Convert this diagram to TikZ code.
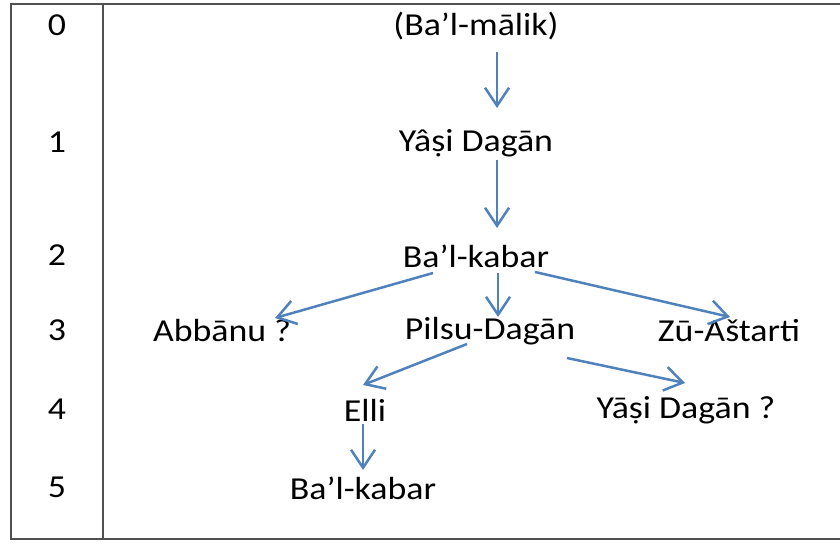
\documentclass[tikz,border=0pt]{standalone}
\usepackage{fontspec}
\setmainfont{Carlito}[FakeStretch=1.12]
\usetikzlibrary{arrows.meta}
\definecolor{arrblue}{RGB}{79,129,189}
\definecolor{rule}{RGB}{80,80,80}
\tikzset{
  txt/.style={inner sep=0pt, font=\fontsize{32}{36}\selectfont},
  arr/.style={arrblue, line width=2.5pt, -{Straight Barb[length=18pt,width=24pt,line width=2.5pt]}},
}
\begin{document}
\begin{tikzpicture}[x=1pt, y=-1pt]
        \useasboundingbox (0,0) rectangle (840,545);
        % table frame
        \draw[rule, line width=1.5pt] (840,4) -- (11,4) -- (11,539) -- (840,539);
        \draw[rule, line width=1.5pt] (103,4) -- (103,539);

        % generations
        \foreach \g/\y in {0/25, 1/142, 2/255, 3/330, 4/409, 5/487}
            \node[txt] (g\g) at (57,\y) {\g};

        \node[txt] (bm)  at (476,26)  {(Ba’l-mālik)};
        \node[txt] (yd)  at (476,143) {Yâṣi Dagān};
        \node[txt] (bk)  at (476,256) {Ba’l-kabar};
        \node[txt] (ab)  at (222,331) {Abbānu ?};
        \node[txt] (pd)  at (490,331) {Pilsu-Dagān};
        \node[txt] (za)  at (729,331) {Zū-Aštarti};
        \node[txt] (el)  at (365,410) {Elli};
        \node[txt] (ydq) at (686,410) {Yāṣi Dagān ?};
        \node[txt] (bk2) at (363,488) {Ba’l-kabar};

        \draw[arr] ([shift={(21,26)}]bm.center) -- ([shift={(21,-35)}]yd.center);
        \draw[arr] ([shift={(21,17)}]yd.center) -- ([shift={(21,-28)}]bk.center);
        \draw[arr] ([shift={(-43,17)}]bk.center) -- ([shift={(53,-13)}]ab.center);
        \draw[arr] ([shift={(22,17)}]bk.center) -- ([shift={(8,-14)}]pd.center);
        \draw[arr] ([shift={(59,16)}]bk.center) -- ([shift={(1,-14)}]za.center);
        \draw[arr] ([shift={(-23,13)}]pd.center) -- ([shift={(-2,-25)}]el.center);
        \draw[arr] ([shift={(77,27)}]pd.center) -- ([shift={(-1,-27)}]ydq.center);
        \draw[arr] ([shift={(-2,14)}]el.center) -- ([shift={(0,-18)}]bk2.center);

    \end{tikzpicture}
\end{document}
